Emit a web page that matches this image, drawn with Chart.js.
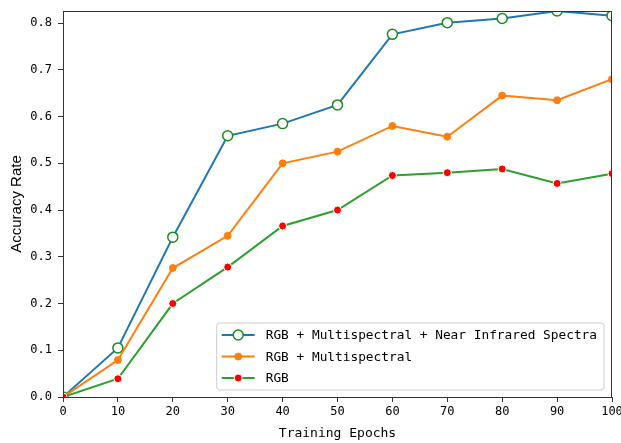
<!DOCTYPE html>
<html>
<head>
<meta charset="utf-8">
<script src="https://cdn.jsdelivr.net/npm/chart.js@4"></script>
<style>
  body { margin: 0; background: #fff; }
  #wrap { width: 621px; height: 443px; }
</style>
</head>
<body>
<div id="wrap"><canvas id="acc-chart" width="621" height="443"></canvas></div>
<script>
// Данные
const epochs = [0, 10, 20, 30, 40, 50, 60, 70, 80, 90, 100];
const rgbMsNir = [0, 0.105, 0.342, 0.559, 0.585, 0.625, 0.776, 0.801, 0.810, 0.826, 0.816];
const rgbMs = [0, 0.079, 0.276, 0.345, 0.500, 0.525, 0.580, 0.557, 0.645, 0.635, 0.680];
const rgbOnly = [0, 0.039, 0.200, 0.278, 0.366, 0.400, 0.474, 0.480, 0.488, 0.457, 0.478];
const seriesNames = ['RGB + Multispectral + Near Infrared Spectra', 'RGB + Multispectral', 'RGB'];

const FONT = '"DejaVu Sans Mono", monospace';
const AXIS = '#333';

function toPoints(values) {
    return epochs.map((e, i) => ({ x: e, y: values[i] }));
}

// Рамка и легенда внутри области графика
const framePlugin = {
    id: 'frame',
    afterDatasetsDraw(chart) {
        const { ctx, chartArea: a } = chart;
        ctx.save();
        ctx.strokeStyle = AXIS;
        ctx.lineWidth = 1;
        ctx.strokeRect(a.left + 0.5, a.top + 0.5, a.right - a.left - 1, a.bottom - a.top);

        // легенда
        ctx.font = '12.8px ' + FONT;
        const textW = Math.max(...seriesNames.map(n => ctx.measureText(n).width));
        const w = 5 + 33 + 11 + textW + 7;
        const h = 67;
        const x = a.right - 8 - w;
        const y = a.bottom - 7 - h;
        ctx.beginPath();
        ctx.roundRect(x, y, w, h, 3);
        ctx.fillStyle = 'rgba(255,255,255,0.8)';
        ctx.fill();
        ctx.strokeStyle = '#cccccc';
        ctx.stroke();

        chart.data.datasets.forEach((ds, i) => {
            const ry = y + 12 + i * 21.5;
            ctx.strokeStyle = ds.borderColor;
            ctx.lineWidth = 2;
            ctx.beginPath();
            ctx.moveTo(x + 5, ry);
            ctx.lineTo(x + 38, ry);
            ctx.stroke();
            ctx.beginPath();
            ctx.arc(x + 21.5, ry, ds.pointRadius, 0, Math.PI * 2);
            ctx.fillStyle = ds.pointBackgroundColor;
            ctx.fill();
            ctx.lineWidth = ds.pointBorderWidth;
            ctx.strokeStyle = ds.pointBorderColor;
            ctx.stroke();
            ctx.fillStyle = '#000';
            ctx.textBaseline = 'middle';
            ctx.textAlign = 'left';
            ctx.fillText(ds.label, x + 49, ry + 1);
        });
        ctx.restore();
    }
};

const ctx = document.getElementById('acc-chart').getContext('2d');
const chart = new Chart(ctx, {
    type: 'line',
    data: {
        datasets: [{
            label: seriesNames[0],
            data: toPoints(rgbMsNir),
            borderColor: '#1f77b4',
            borderWidth: 2,
            pointRadius: 5,
            pointBackgroundColor: '#ffffff',
            pointBorderColor: '#1a8c1a',
            pointBorderWidth: 1.5,
            clip: { left: 0, top: 0, right: 0, bottom: 0 },
            order: 3
        }, {
            label: seriesNames[1],
            data: toPoints(rgbMs),
            borderColor: '#ff7f0e',
            borderWidth: 2,
            pointRadius: 3.5,
            pointBackgroundColor: '#ff7f0e',
            pointBorderColor: '#ff7f0e',
            pointBorderWidth: 1,
            clip: { left: 0, top: 0, right: 0, bottom: 0 },
            order: 2
        }, {
            label: seriesNames[2],
            data: toPoints(rgbOnly),
            borderColor: '#2ca02c',
            borderWidth: 2,
            pointRadius: 4,
            pointBackgroundColor: '#ff0000',
            pointBorderColor: '#ffffff',
            pointBorderWidth: 1,
            clip: { left: 0, top: 0, right: 0, bottom: 0 },
            order: 1
        }]
    },
    options: {
        responsive: false,
        animation: false,
        layout: { padding: { top: 11, right: 9, left: 8, bottom: 0 } },
        plugins: {
            legend: { display: false },
            tooltip: { enabled: false }
        },
        scales: {
            x: {
                type: 'linear',
                min: 0,
                max: 100,
                afterFit(scale) {
                    scale.height = 46;
                    scale.paddingRight = 0;
                    scale.paddingLeft = 0;
                },
                grid: { drawOnChartArea: false, drawTicks: true, tickLength: 5, color: AXIS },
                border: { display: true, color: AXIS, width: 1 },
                ticks: {
                    stepSize: 10,
                    padding: 3,
                    maxRotation: 0,
                    color: '#000',
                    font: { family: FONT, size: 12 },
                    callback: v => v.toFixed(0)
                },
                title: {
                    display: true,
                    text: 'Training Epochs',
                    color: '#000',
                    font: { family: FONT, size: 13 },
                    padding: { top: 0, bottom: 2 }
                }
            },
            y: {
                min: 0,
                max: 0.826,
                afterFit(scale) {
                    scale.width = 55;
                    scale.paddingTop = 0;
                    scale.paddingBottom = 0;
                },
                grid: { drawOnChartArea: false, drawTicks: true, tickLength: 5, color: AXIS },
                border: { display: true, color: AXIS, width: 1 },
                ticks: {
                    stepSize: 0.1,
                    includeBounds: false,
                    padding: 6,
                    color: '#000',
                    font: { family: FONT, size: 12 },
                    callback: v => v.toFixed(1)
                },
                title: {
                    display: true,
                    text: 'Accuracy Rate',
                    color: '#000',
                    font: { family: '"Liberation Sans", Arial, sans-serif', size: 15 },
                    padding: { top: 0, bottom: 0 }
                }
            }
        }
    },
    plugins: [framePlugin]
});
</script>
</body>
</html>
